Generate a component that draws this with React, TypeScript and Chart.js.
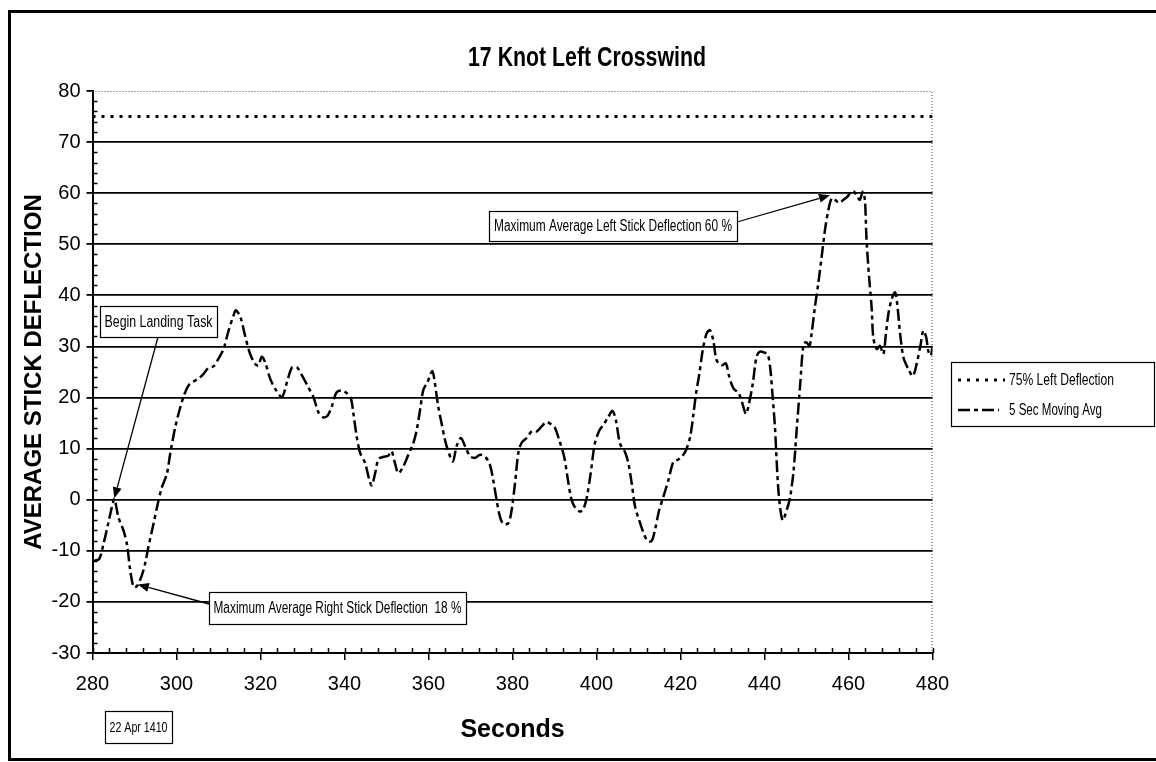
import React, { useEffect, useRef } from 'react';
import { Chart, registerables } from 'chart.js';

Chart.register(...registerables);

// ---------- data ----------
const seconds = [
  280.2, 281.6, 282.6, 283.7, 284.6, 285.2, 286.2, 287.4, 288.2, 289.0,
  289.8, 290.6, 291.7, 292.5, 293.3, 294.5, 295.7, 296.5, 297.7, 298.5,
  299.7, 300.9, 301.9, 302.9, 304.0, 305.2, 306.4, 307.6, 308.8, 310.0,
  311.2, 312.4, 313.6, 314.1, 315.2, 316.3, 317.5, 318.7, 319.5, 320.3,
  321.1, 322.3, 323.5, 325.1, 326.3, 327.5, 328.7, 329.9, 331.4, 332.6,
  333.8, 335.0, 336.0, 337.0, 338.1, 339.3, 340.5, 341.5, 342.1, 342.9,
  343.7, 344.9, 345.9, 346.5, 347.3, 348.1, 349.3, 350.4, 351.2, 352.0,
  352.8, 354.0, 355.2, 356.4, 357.2, 358.0, 358.8, 359.7, 360.9, 361.5,
  362.3, 363.1, 363.9, 364.7, 365.8, 366.7, 367.7, 368.7, 369.9, 371.1,
  372.3, 373.5, 374.6, 375.4, 376.2, 377.0, 377.8, 379.0, 379.8, 380.6,
  381.4, 382.2, 383.4, 384.6, 385.8, 387.0, 388.1, 389.3, 390.1, 391.2,
  392.3, 393.1, 393.9, 394.6, 395.7, 396.7, 397.7, 398.6, 399.6, 400.7,
  401.6, 402.8, 403.8, 404.6, 405.6, 406.8, 407.6, 408.4, 409.2, 410.2,
  411.1, 412.1, 413.1, 413.9, 414.9, 415.9, 417.1, 418.3, 419.3, 420.3,
  421.3, 422.3, 423.1, 423.7, 424.5, 425.3, 426.2, 427.0, 427.8, 428.6,
  429.8, 430.8, 431.6, 432.6, 433.8, 434.6, 435.6, 436.3, 437.2, 438.1,
  438.9, 440.0, 440.8, 441.4, 441.9, 442.5, 442.9, 443.4, 444.3, 445.3,
  446.1, 446.9, 447.7, 448.5, 449.3, 450.0, 450.7, 451.2, 452.0, 452.8,
  453.6, 454.4, 455.2, 456.0, 456.8, 457.8, 458.8, 459.7, 460.5, 461.3,
  462.1, 462.7, 463.4, 463.9, 464.3, 464.9, 465.5, 465.9, 466.7, 467.5,
  468.3, 468.9, 469.5, 470.3, 471.1, 471.6, 472.3, 473.1, 474.3, 475.3,
  476.2, 477.2, 477.8, 478.5, 479.0, 479.6, 480.0,
];

const movingAvg = [
  -12.0, -11.6, -8.7, -4.8, -1.5, 0.1, -3.5, -6.1, -8.7, -13.9,
  -17.1, -16.9, -14.9, -12.6, -9.3, -4.8, -0.2, 2.4, 5.0, 9.0,
  14.2, 18.1, 20.7, 22.4, 23.1, 23.7, 24.6, 25.8, 26.1, 27.6,
  29.5, 33.1, 36.1, 37.1, 35.8, 32.2, 28.6, 26.6, 26.3, 28.0,
  26.9, 23.7, 21.7, 20.1, 23.0, 25.9, 25.9, 24.3, 22.0, 20.1,
  17.1, 16.1, 16.5, 18.3, 21.0, 21.4, 20.9, 19.9, 17.0, 12.4,
  9.2, 7.2, 3.9, 2.8, 5.2, 8.0, 8.4, 8.6, 9.5, 7.2,
  5.2, 6.5, 8.8, 11.1, 13.7, 17.6, 21.6, 22.9, 25.2, 22.9,
  18.3, 15.0, 11.8, 9.5, 7.5, 10.5, 12.1, 10.5, 8.5, 8.2,
  8.8, 8.4, 6.9, 3.9, 0.0, -3.3, -4.7, -4.6, -2.0, 3.3,
  9.2, 11.2, 12.1, 13.4, 13.4, 14.4, 15.2, 14.7, 14.1, 11.5,
  8.4, 4.4, 0.5, -1.1, -2.2, -2.1, 0.5, 5.1, 11.0, 13.6,
  14.6, 16.2, 17.4, 15.6, 11.0, 9.3, 7.1, 3.1, -1.4, -4.1,
  -6.3, -8.0, -8.1, -6.0, -2.1, 0.5, 3.8, 7.4, 7.8, 8.4,
  9.7, 12.3, 16.9, 20.8, 24.7, 29.3, 32.5, 33.2, 31.2, 27.3,
  26.3, 26.7, 24.1, 21.8, 20.9, 19.2, 16.8, 18.8, 22.7, 28.0,
  29.0, 28.8, 28.4, 25.5, 20.6, 14.1, 7.5, 1.0, -4.0, -2.0,
  0.5, 5.5, 14.1, 22.6, 30.5, 30.8, 30.1, 32.4, 37.7, 42.3,
  47.5, 52.8, 56.7, 59.0, 58.7, 58.1, 58.7, 59.3, 60.1, 60.3,
  59.3, 58.7, 60.3, 58.7, 50.8, 43.6, 37.7, 31.8, 29.5, 30.1,
  28.5, 32.4, 36.4, 39.3, 40.6, 38.3, 32.4, 27.8, 25.5, 24.2,
  26.5, 30.5, 33.1, 31.8, 29.1, 28.2, 30.1,
];

const limitSeconds = [280, 480];
const limitValues = [75, 75];

const xTickValues = [280, 300, 320, 340, 360, 380, 400, 420, 440, 460, 480];
const yTickValues = [-30, -20, -10, 0, 10, 20, 30, 40, 50, 60, 70, 80];

const TITLE = '17 Knot Left Crosswind';
const X_TITLE = 'Seconds';
const Y_TITLE = 'AVERAGE STICK DEFLECTION';
const LIMIT_LABEL = '75% Left Deflection';
const AVG_LABEL = '5 Sec Moving Avg';
const DATE_NOTE = '22 Apr 1410';

// annotation texts with the data point each arrow points at
const noteBegin = { text: 'Begin Landing Task', atX: 285.2, atY: 0.3 };
const noteRight = { text: 'Maximum Average Right Stick Deflection  18 %', atX: 290.8, atY: -16.6 };
const noteLeft = { text: 'Maximum Average Left Stick Deflection 60 %', atX: 455.6, atY: 59.6 };

const NARROW = "'Liberation Sans Narrow', 'Arial Narrow', 'Liberation Sans', Arial, sans-serif";
const WIDE = "'Liberation Sans', Arial, sans-serif";

// draw text squeezed horizontally to a given width (condensed look of the original)
function fitText(
  ctx: CanvasRenderingContext2D, text: string, x: number, y: number,
  width: number, font: string, align: 'left' | 'center'
) {
  ctx.save();
  ctx.font = font;
  ctx.textBaseline = 'middle';
  ctx.textAlign = 'left';
  const w = ctx.measureText(text).width;
  const s = width / w;
  const left = align === 'center' ? x - width / 2 : x;
  ctx.translate(left, y);
  ctx.scale(s, 1);
  ctx.fillStyle = '#000';
  ctx.fillText(text, 0, 0);
  ctx.restore();
}

function arrow(ctx: CanvasRenderingContext2D, x0: number, y0: number, x1: number, y1: number) {
  const ang = Math.atan2(y1 - y0, x1 - x0);
  const L = 11, W = 4.5;
  const bx = x1 - L * Math.cos(ang), by = y1 - L * Math.sin(ang);
  ctx.beginPath();
  ctx.moveTo(x0, y0);
  ctx.lineTo(bx, by);
  ctx.lineWidth = 1.3;
  ctx.strokeStyle = '#000';
  ctx.stroke();
  ctx.beginPath();
  ctx.moveTo(x1, y1);
  ctx.lineTo(bx + W * Math.sin(ang), by - W * Math.cos(ang));
  ctx.lineTo(bx - W * Math.sin(ang), by + W * Math.cos(ang));
  ctx.closePath();
  ctx.fillStyle = '#000';
  ctx.fill();
}

function box(ctx: CanvasRenderingContext2D, x0: number, y0: number, x1: number, y1: number,
  text: string, size: number, textW: number) {
  ctx.fillStyle = '#fff';
  ctx.fillRect(x0, y0, x1 - x0, y1 - y0);
  ctx.strokeStyle = '#000';
  ctx.lineWidth = 1.2;
  ctx.setLineDash([]);
  ctx.strokeRect(x0 + 0.5, y0 + 0.5, x1 - x0, y1 - y0);
  fitText(ctx, text, (x0 + x1) / 2, (y0 + y1) / 2 + 1, textW, `${size}px ${NARROW}`, 'center');
}

const decor = {
  id: 'decor',
  afterDraw(chart: any) {
    const { ctx, chartArea: a } = chart;
    const xs = chart.scales.x, ys = chart.scales.y;
    ctx.save();

    // outer frame
    ctx.strokeStyle = '#000';
    ctx.lineWidth = 3;
    ctx.setLineDash([]);
    ctx.beginPath();
    ctx.moveTo(1160, 11.5);
    ctx.lineTo(9.5, 11.5);
    ctx.lineTo(9.5, 759.5);
    ctx.lineTo(1160, 759.5);
    ctx.stroke();

    // dotted plot border top & right
    ctx.strokeStyle = '#444';
    ctx.lineWidth = 1;
    ctx.setLineDash([1, 2]);
    ctx.beginPath();
    ctx.moveTo(a.left, a.top + 0.5);
    ctx.lineTo(a.right - 0.5, a.top + 0.5);
    ctx.lineTo(a.right - 0.5, a.bottom);
    ctx.stroke();
    ctx.setLineDash([]);

    // minor ticks
    ctx.strokeStyle = '#000';
    ctx.lineWidth = 1.5;
    ctx.beginPath();
    for (let v = ys.min; v <= ys.max; v += 2) {
      if (v % 10 === 0) continue;
      const py = Math.round(ys.getPixelForValue(v)) + 0.5;
      ctx.moveTo(a.left, py);
      ctx.lineTo(a.left + 5, py);
    }
    for (let t = xs.min; t <= xs.max; t += 4) {
      const px = Math.round(xs.getPixelForValue(t)) + 0.5;
      ctx.moveTo(px, a.bottom);
      ctx.lineTo(px, a.bottom - 5);
    }
    ctx.stroke();

    // title
    fitText(ctx, TITLE, 587, 58, 238, `bold 28px ${NARROW}`, 'center');

    // annotations
    const bx = (v: number) => xs.getPixelForValue(v);
    const by = (v: number) => ys.getPixelForValue(v);

    arrow(ctx, 158, 337, bx(noteBegin.atX), by(noteBegin.atY));
    box(ctx, 100, 306, 217, 337, noteBegin.text, 16, 108);

    arrow(ctx, 209, 604, bx(noteRight.atX), by(noteRight.atY));
    box(ctx, 209, 592, 466, 624, noteRight.text, 16, 248);

    arrow(ctx, 737, 222, bx(noteLeft.atX), by(noteLeft.atY));
    box(ctx, 489, 211, 737, 241, noteLeft.text, 16, 238);

    box(ctx, 105, 711, 172, 743, DATE_NOTE, 15, 58);

    // legend
    const ds = chart.data.datasets;
    ctx.fillStyle = '#fff';
    ctx.fillRect(951, 362, 204, 65);
    ctx.strokeStyle = '#000';
    ctx.lineWidth = 1.2;
    ctx.strokeRect(951.5, 362.5, 203, 64);
    const rows = [380, 410];
    const textW = [105, 93];
    ds.forEach((d: any, i: number) => {
      ctx.save();
      ctx.strokeStyle = '#000';
      ctx.lineWidth = d.borderWidth;
      ctx.setLineDash(d.borderDash || []);
      ctx.beginPath();
      ctx.moveTo(958, rows[i]);
      ctx.lineTo(i === 0 ? 1005 : 999, rows[i]);
      ctx.stroke();
      ctx.restore();
      fitText(ctx, d.label, 1009, rows[i] + 1, textW[i], `16px ${NARROW}`, 'left');
    });

    ctx.restore();
  },
};

export default function App() {
  const ref = useRef<HTMLCanvasElement | null>(null);

  useEffect(() => {
    if (!ref.current) return;
    const chart = new Chart(ref.current, {
      type: 'line',
      data: {
        datasets: [
          {
            label: LIMIT_LABEL,
            data: limitSeconds.map((s, i) => ({ x: s, y: limitValues[i] })),
            borderColor: '#000',
            borderWidth: 3,
            borderDash: [3, 6],
            pointRadius: 0,
            fill: false,
          },
          {
            label: AVG_LABEL,
            data: seconds.map((s, i) => ({ x: s, y: movingAvg[i] })),
            borderColor: '#000',
            borderWidth: 2.5,
            borderDash: [12, 4, 4, 4],
            pointRadius: 0,
            tension: 0.3,
            fill: false,
          },
        ],
      },
      options: {
        responsive: false,
        animation: false,
        devicePixelRatio: 1,
        layout: { padding: { top: 91, right: 223.5, bottom: 0, left: 0 } },
        plugins: {
          legend: { display: false },
          tooltip: { enabled: false },
          title: { display: false },
        },
        scales: {
          x: {
            type: 'linear',
            min: 280,
            max: 480,
            afterBuildTicks: (s: any) => { s.ticks = xTickValues.map((v) => ({ value: v })); },
            afterFit: (s: any) => { s.height = 109; },
            ticks: {
              color: '#000',
              font: { family: NARROW, size: 20 },
              padding: 12,
              maxRotation: 0,
              autoSkip: false,
            },
            grid: {
              drawOnChartArea: false,
              drawTicks: true,
              tickLength: 7,
              color: '#000',
              lineWidth: 1.5,
            },
            border: { display: true, color: '#000', width: 2 },
            title: {
              display: true,
              text: X_TITLE,
              color: '#000',
              font: { family: NARROW, size: 25, weight: 'bold' },
              padding: { top: 0, bottom: 17 },
            },
          },
          y: {
            type: 'linear',
            min: -30,
            max: 80,
            afterBuildTicks: (s: any) => { s.ticks = yTickValues.map((v) => ({ value: v })); },
            afterFit: (s: any) => { s.width = 92.5; },
            ticks: {
              color: '#000',
              font: { family: NARROW, size: 20 },
              padding: 6,
              autoSkip: false,
            },
            grid: {
              color: (c: any) => (c.tick && c.tick.value === 80 ? 'rgba(0,0,0,0)' : '#000'),
              tickColor: '#000',
              lineWidth: 1.8,
              drawTicks: true,
              tickLength: 6,
            },
            border: { display: true, color: '#000', width: 2 },
            title: {
              display: true,
              text: Y_TITLE,
              color: '#000',
              font: { family: WIDE, size: 24, weight: 'bold' },
              padding: { top: 20, bottom: 0 },
            },
          },
        },
      },
      plugins: [decor],
    });
    return () => chart.destroy();
  }, []);

  return (
    <div style={{ position: 'absolute', left: 0, top: 0, width: 1156, height: 762, background: '#fff' }}>
      <canvas ref={ref} width={1156} height={762} style={{ display: 'block' }} />
    </div>
  );
}
